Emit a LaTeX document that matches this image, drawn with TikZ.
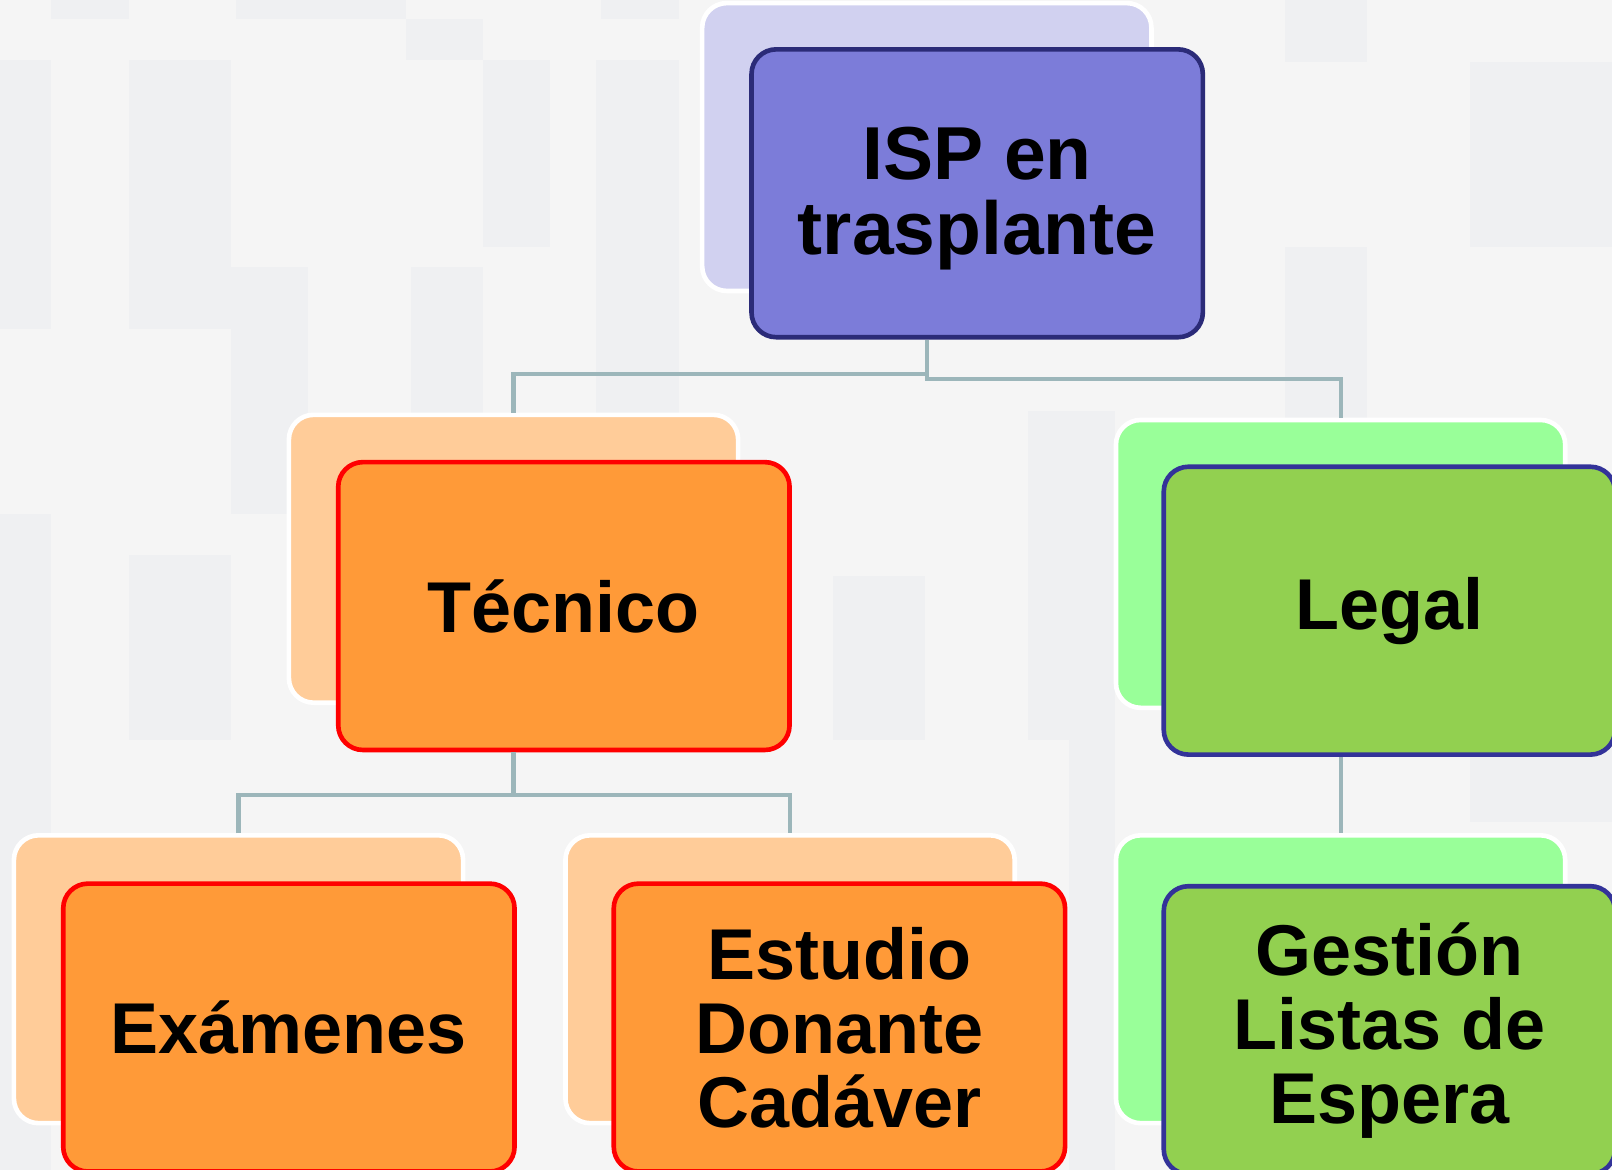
\documentclass[tikz,border=0pt]{standalone}
\usepackage{fontspec}
\setmainfont{Liberation Sans}
\definecolor{bgc}{HTML}{F5F5F5}
\definecolor{tilec}{HTML}{EFF0F2}
\definecolor{linec}{HTML}{9CB6BA}
\definecolor{topback}{HTML}{D1D1F0}
\definecolor{topfront}{HTML}{7C7CD9}
\definecolor{topedge}{HTML}{2B2B78}
\definecolor{orback}{HTML}{FFCC99}
\definecolor{orfront}{HTML}{FF9A38}
\definecolor{oredge}{HTML}{FF0000}
\definecolor{grback}{HTML}{99FF99}
\definecolor{grfront}{HTML}{92D050}
\definecolor{gredge}{HTML}{333399}
\tikzset{
  backbox/.style={rectangle, rounded corners=24pt, draw=white, line width=4.5pt,
    minimum width=437pt, minimum height=280pt, inner sep=0pt},
  frontbox/.style={rectangle, rounded corners=24pt, line width=4.5pt,
    minimum width=439pt, minimum height=280pt, inner sep=0pt, align=center,
    font=\bfseries\fontsize{70}{72}\selectfont},
  boxtext/.style={inner sep=0pt, align=center, font=\bfseries\fontsize{73}{73}\selectfont},
  conn/.style={draw=linec, line width=4pt},
  tile/.style={fill=tilec, draw=none}
}
\begin{document}
\begin{tikzpicture}[x=1pt,y=-1pt]
\useasboundingbox (0,0) rectangle (1568,1138);
\fill[bgc] (0,0) rectangle (1568,1138);
% background tiles
\foreach \a/\b/\c/\d in {50/0/125/18, 230/0/395/18, 395/18/470/58, 585/0/660/18,
  0/58/50/240, 125/58/225/240, 470/58/535/240, 580/58/660/240,
  0/240/50/320, 125/240/225/320, 225/260/300/500, 400/260/470/500,
  580/240/660/500, 1250/0/1330/60, 1430/60/1568/240, 1250/240/1330/500,
  0/500/50/720, 125/540/225/720, 1000/400/1085/720, 810/560/900/720,
  0/720/50/1138, 125/900/225/1138, 1040/720/1085/1138, 810/900/900/1138,
  1430/720/1568/800}
  \fill[tile] (\a,\b) rectangle (\c,\d);
% top
\node[backbox, fill=topback] (isp0) at (901.5,143) {};
\node[frontbox, fill=topfront, draw=topedge] (isp) at (950.5,188) {};
\node[boxtext] (ispt) at (950.5,193) {ISP en\\trasplante};
% level 2
\node[backbox, fill=orback] (tec0) at (499.5,543.5) {};
\node[frontbox, fill=orfront, draw=oredge] (tec) at (548.5,589.5) {Técnico};
\node[backbox, fill=grback] (leg0) at (1304,548.5) {};
\node[frontbox, fill=grfront, draw=gredge] (leg) at (1351.5,594) {Legal};
% level 3
\node[backbox, fill=orback] (exa0) at (232,952.5) {};
\node[frontbox, fill=orfront, draw=oredge] (exa) at (281,999.5) {Exámenes};
\node[backbox, fill=orback] (est0) at (768.5,952.5) {};
\node[frontbox, fill=orfront, draw=oredge] (est) at (816.5,999.5) {Estudio\\Donante\\Cadáver};
\node[backbox, fill=grback] (ges0) at (1304,952.5) {};
\node[frontbox, fill=grfront, draw=gredge] (ges) at (1351.5,1002) {Gestión\\Listas de\\Espera};
% connectors
\coordinate (jt) at (901.5,369);
\coordinate (jl) at (901.5,364);
\coordinate (jm) at (499.5,773);
\draw[conn] (isp0.center |- isp.south) -- (jt) -| (leg0.north);
\draw[conn] (jl) -| (tec0.north);
\draw[conn] (tec0.center |- tec.south) -- (jm);
\draw[conn] (exa0.north) -- (exa0.north |- jm) -- (est0.north |- jm) -- (est0.north);
\draw[conn] (leg0.center |- leg.south) -- (ges0.north);
\end{tikzpicture}
\end{document}
